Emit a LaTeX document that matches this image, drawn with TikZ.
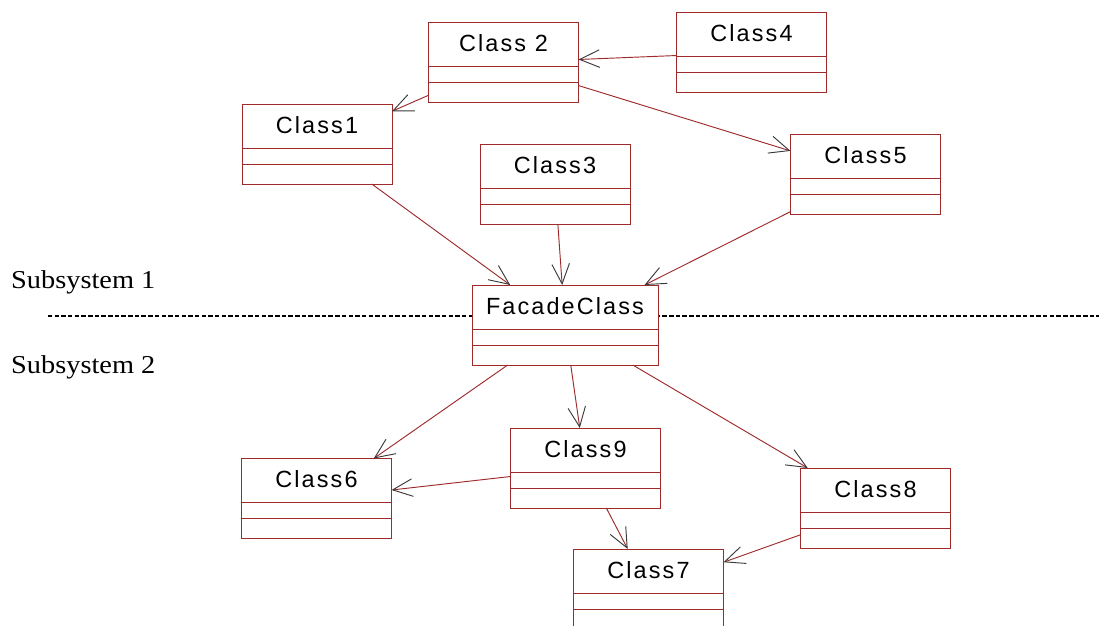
\documentclass[tikz,border=0pt]{standalone}
\usepackage{fontspec}
\usetikzlibrary{arrows.meta}
\newfontfamily\umlfont[LetterSpace=9]{Liberation Sans}
\newfontfamily\subfont[FakeStretch=1.1]{Liberation Serif}
\definecolor{umlRed}{HTML}{9E2A2A}
\definecolor{tipGray}{HTML}{3A3A3A}

\begin{document}
\begin{tikzpicture}[x=0.03cm, y=-0.03cm,
    cls/.style={rectangle, draw=umlRed, fill=white, text=black, line width=0.8pt,
                minimum width=#1, minimum height=2.4cm, inner sep=0pt, outer sep=0pt,
                text height=0.88cm, text depth=1.52cm,
                font=\umlfont\fontsize{20}{22}\selectfont,
                path picture={
                  \draw[umlRed, line width=0.8pt]
                    ([yshift=-1.32cm]path picture bounding box.north west) -- ([yshift=-1.32cm]path picture bounding box.north east)
                    ([yshift=-1.8cm]path picture bounding box.north west) -- ([yshift=-1.8cm]path picture bounding box.north east);
                }},
    cls/.default=4.5cm,
    dep/.style={umlRed, line width=0.8pt,
                -{Straight Barb[length=17pt, width=15pt, color=tipGray, line width=0.8pt]}},
    sub/.style={anchor=base west, inner sep=0pt, font=\subfont\fontsize{22}{24}\selectfont},
  ]
    \useasboundingbox (0,0) rectangle (1099,626);

    % separator between the subsystems
    \coordinate (sepL) at (48,316);
    \coordinate (sepR) at (1099,316);
    \draw[line width=1.1pt, dash pattern=on 3.8pt off 1.9pt] (sepL) -- (sepR);

    \node[sub] (sub1) at (11,289) {Subsystem 1};
    \node[sub] (sub2) at (11,373) {Subsystem 2};

    % subsystem 1
    \node[cls] (c2) at (503.5,62.5) {Class 2};
    \node[cls] (c4) at (751.5,52.5) {Class4};
    \node[cls] (c1) at (317,144)    {Class1};
    \node[cls] (c3) at (555,184)    {Class3};
    \node[cls] (c5) at (865.5,174)  {Class5};

    % facade
    \node[cls=5.58cm] (fc) at (565,325) {FacadeClass};

    % subsystem 2
    \node[cls] (c9) at (585.5,468)  {Class9};
    \node[cls] (c6) at (316.5,498.5) {Class6};
    \node[cls] (c8) at (875.5,508)  {Class8};
    \node[cls] (c7) at (648.5,589)  {Class7};

    \draw[dep] (c4) -- (c2);
    \draw[dep] (c2) -- (c1);
    \draw[dep] (c2) -- (c5);
    \draw[dep] (c1) -- (fc);
    \draw[dep] (c3) -- (fc);
    \draw[dep] (c5) -- (fc);
    \draw[dep] (fc) -- (c6);
    \draw[dep] (fc) -- (c9);
    \draw[dep] (fc) -- (c8);
    \draw[dep] (c9) -- (c6);
    \draw[dep] (c9) -- (c7);
    \draw[dep] (c8) -- (c7);
  \end{tikzpicture}
\end{document}
